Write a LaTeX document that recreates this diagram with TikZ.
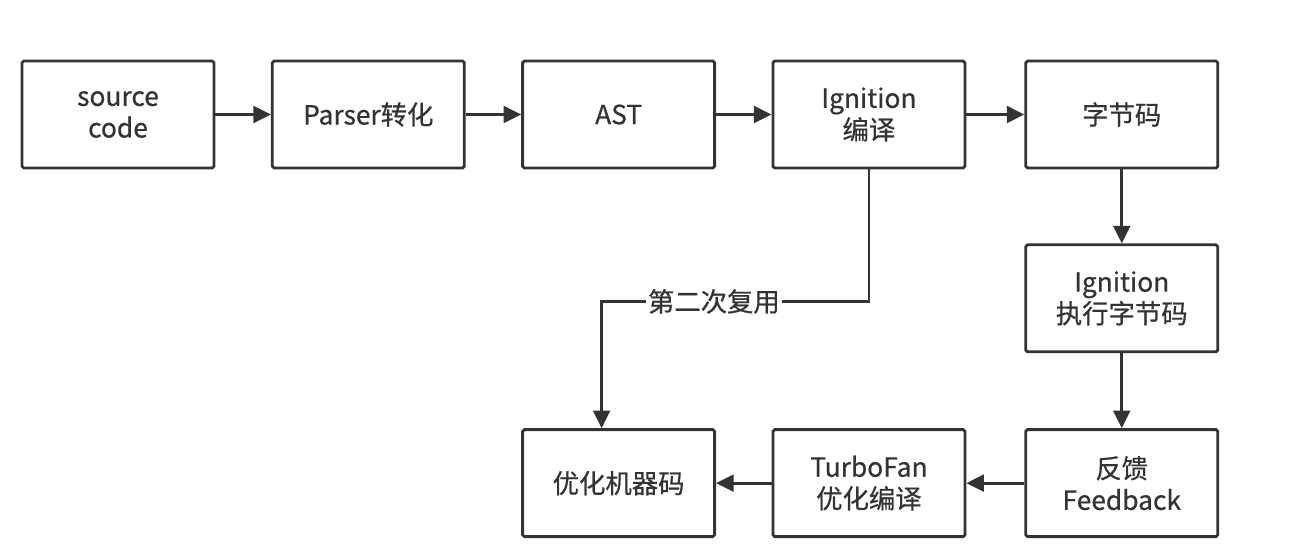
\documentclass[tikz,border=0pt]{standalone}
\usepackage{fontspec}
\setmainfont{Noto Sans CJK SC}[FakeBold=0.6]
\usetikzlibrary{arrows.meta,positioning}
\definecolor{ink}{HTML}{333333}
\tikzset{every picture/.style={
  >={Triangle[length=10pt,width=9.5pt]}   % Filled triangle tips.
  }
}

\begin{document}
\begin{tikzpicture}[
    node distance=1.11cm,
    blk/.style={
      draw=ink,
      line width=1.6pt,
      rounded corners=1pt,
      minimum width=3.84cm,
      minimum height=2.14cm,
      align=center,
      text=ink,
      font=\fontsize{15}{18}\selectfont
    },
    flow/.style={
      ->,
      draw=ink,
      line width=1.6pt
    }]

    \useasboundingbox (0,0) rectangle (25.9,-11.08);

    % Top row, left to right.
    \node[blk] (src) at (2.36,-2.29) {source\\code};
    \node[blk,right=of src] (parser) {Parser转化};
    \node[blk,right=of parser] (ast) {AST};
    \node[blk,right=of ast] (ign) {Ignition\\编译};
    \node[blk,right=1.16cm of ign] (bc) {字节码};

    % Right column and bottom row.
    \node[blk,below=1.48cm of bc] (run) {Ignition\\执行字节码};
    \node[blk,below=1.5cm of run] (fb) {反馈\\Feedback};
    \node[blk,left=1.16cm of fb] (turbo) {TurboFan\\优化编译};
    \node[blk,left=of turbo] (opt) {优化机器码};

    % Connectors.
    \draw[flow] (src) -- (parser);
    \draw[flow] (parser) -- (ast);
    \draw[flow] (ast) -- (ign);
    \draw[flow] (ign) -- (bc);
    \draw[flow] (bc) -- (run);
    \draw[flow] (run) -- (fb);
    \draw[flow] (fb) -- (turbo);
    \draw[flow] (turbo) -- (opt);

    % Reuse path from Ignition down to the optimised code.
    \draw[flow] (ign.south) -- ++(0,-2.64) -| node[pos=0.29,fill=white,
      inner xsep=1pt,text=ink,font=\fontsize{15}{18}\selectfont]
      {第二次复用} ([xshift=-0.34cm] opt.north);
  \end{tikzpicture}
\end{document}
